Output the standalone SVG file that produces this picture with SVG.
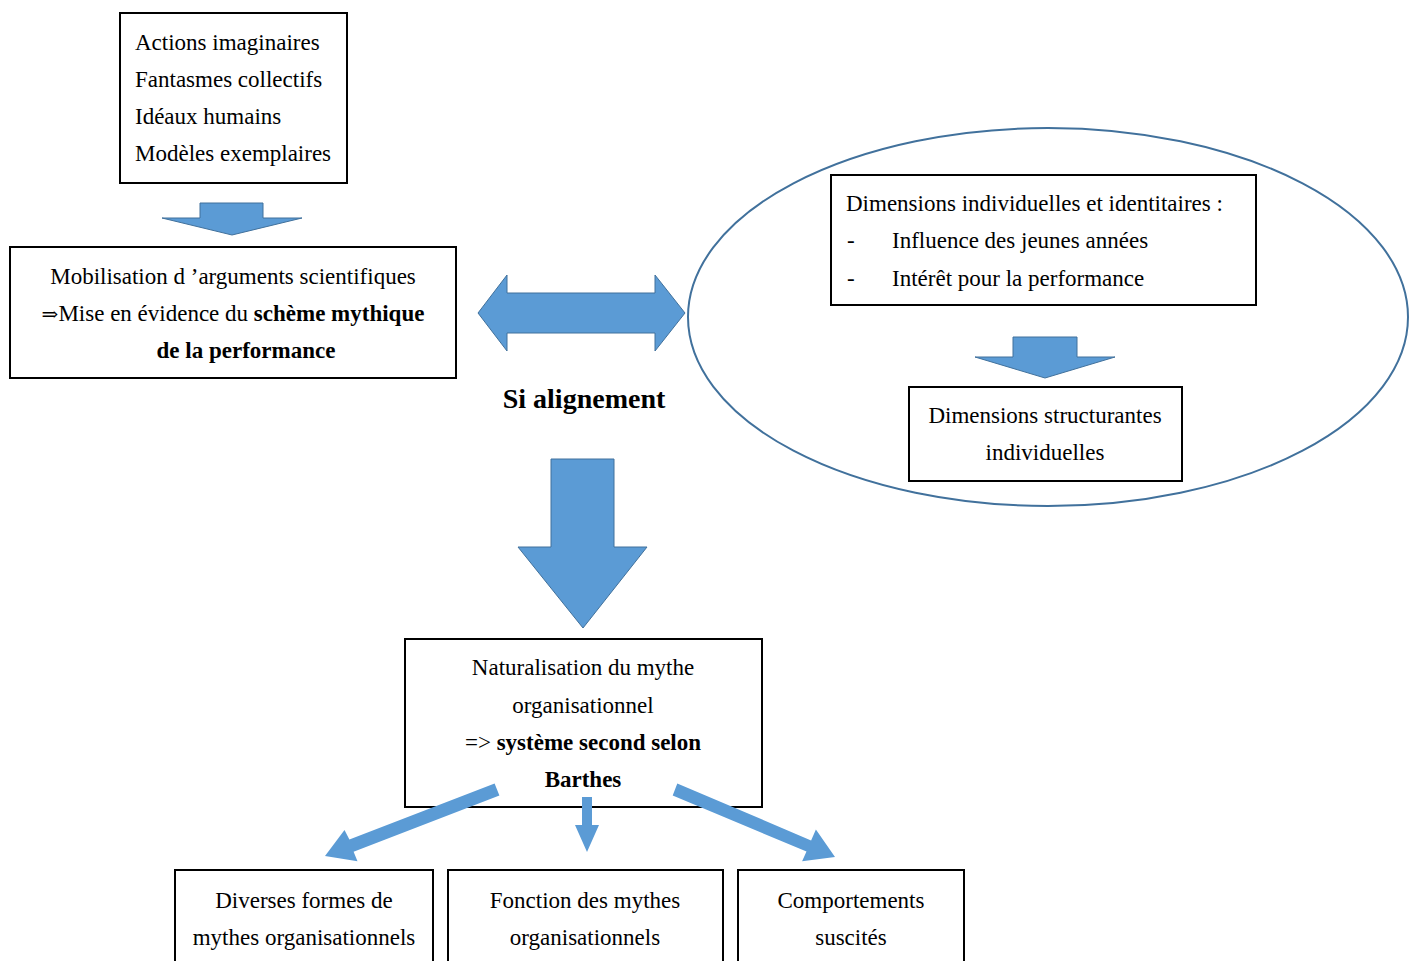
<svg xmlns="http://www.w3.org/2000/svg" width="1418" height="961" viewBox="0 0 1418 961">
<style>
.box{fill:#fff;stroke:#000;stroke-width:2}
.t{font-family:"Liberation Serif","DejaVu Serif",serif;font-size:23px;fill:#000}
.c{text-anchor:middle}
.b{font-weight:bold}
.sym{font-family:"DejaVu Serif","Liberation Serif",serif;font-size:20px}
.arr{fill:#5b9bd5;stroke:#41719c;stroke-width:1}
.arr2{fill:#5b9bd5}
</style>
<rect width="1418" height="961" fill="#fff"/>
<g id="ellipse-group">
<ellipse cx="1048" cy="317" rx="360" ry="189" fill="none" stroke="#41719c" stroke-width="2"/>
</g>
<g id="n1">
<rect class="box" x="120" y="13" width="227" height="170"/>
<text class="t" x="135" y="50">Actions imaginaires</text>
<text class="t" x="135" y="87">Fantasmes collectifs</text>
<text class="t" x="135" y="124">Idéaux humains</text>
<text class="t" x="135" y="161">Modèles exemplaires</text>
</g>
<g id="n2">
<rect class="box" x="10" y="247" width="446" height="131"/>
<text class="t c" x="233" y="284">Mobilisation d ’arguments  scientifiques</text>
<text class="t c" x="233" y="321"><tspan class="sym">⇒</tspan>Mise en évidence du <tspan class="b">schème mythique</tspan></text>
<text class="t c b" x="246" y="358">de la performance</text>
</g>
<g id="n3">
<rect class="box" x="831" y="175" width="425" height="130"/>
<text class="t" x="846" y="211">Dimensions individuelles et identitaires :</text>
<text class="t" x="847" y="248">-</text>
<text class="t" x="892" y="248">Influence des jeunes années</text>
<text class="t" x="847" y="286">-</text>
<text class="t" x="892" y="286">Intérêt pour la performance</text>
</g>
<g id="n4">
<rect class="box" x="909" y="387" width="273" height="94"/>
<text class="t c" x="1045" y="423">Dimensions structurantes</text>
<text class="t c" x="1045" y="460">individuelles</text>
</g>
<g id="label-si">
<text class="t c b" x="584" y="408" style="font-size:28px">Si alignement</text>
</g>
<g id="n5">
<rect class="box" x="405" y="639" width="357" height="168"/>
<text class="t c" x="583" y="675">Naturalisation du mythe</text>
<text class="t c" x="583" y="713">organisationnel</text>
<text class="t c" x="583" y="750">=&gt; <tspan class="b">système second selon</tspan></text>
<text class="t c b" x="583" y="787">Barthes</text>
</g>
<g id="n6">
<rect class="box" x="175" y="870" width="258" height="100"/>
<text class="t c" x="304" y="908">Diverses formes de</text>
<text class="t c" x="304" y="945">mythes organisationnels</text>
</g>
<g id="n7">
<rect class="box" x="448" y="870" width="275" height="100"/>
<text class="t c" x="585" y="908">Fonction des mythes</text>
<text class="t c" x="585" y="945">organisationnels</text>
</g>
<g id="n8">
<rect class="box" x="738" y="870" width="226" height="100"/>
<text class="t c" x="851" y="908">Comportements</text>
<text class="t c" x="851" y="945">suscités</text>
</g>
<g id="connectors">
<polygon class="arr" points="200,203 263,203 263,218 302,218 232,235 162,218 200,218"/>
<polygon class="arr" points="478,313 507,275 507,293 655,293 655,275 685,313 655,351 655,333 507,333 507,351"/>
<polygon class="arr" points="1013,337 1077,337 1077,357 1115,357 1045,378 975,357 1013,357"/>
<polygon class="arr" points="551,459 614,459 614,547 647,547 583,628 518,547 551,547"/>
<polygon class="arr2" points="494.6,783.4 349.4,839.6 344.5,830 325,856 357.5,861.2 353.6,851.8 499.4,795.6"/>
<polygon class="arr2" points="582,797 592,797 592,825 599,825 587,852 575,825 582,825"/>
<polygon class="arr2" points="677.3,783.4 811.1,840.4 815.9,829.5 835,857 802.1,861.2 806.5,851.5 672.7,795.6"/>
</g>
</svg>
